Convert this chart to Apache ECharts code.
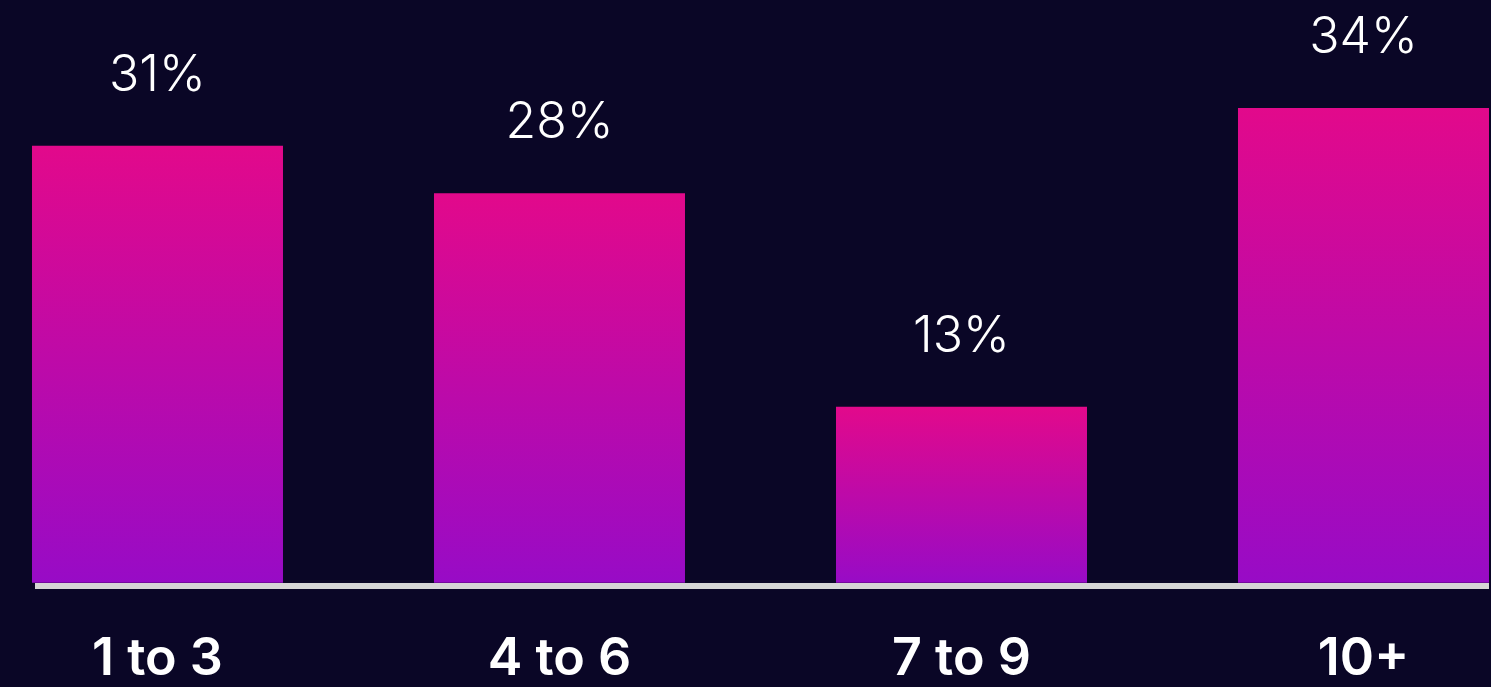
<!DOCTYPE html>
<html>
<head>
<meta charset="utf-8">
<script src="https://cdn.jsdelivr.net/npm/echarts@6/dist/echarts.min.js"></script>
<style>
html,body{margin:0;padding:0;background:#0a0626;}
#c{width:1491px;height:687px;}
</style>
</head>
<body>
<div id="c"></div>
<script>
const categories = ['1 to 3', '4 to 6', '7 to 9', '10+'];
const values = [31.3, 27.9, 12.6, 34];
const positions = [0, 1, 2, 3];

const chart = echarts.init(document.getElementById('c'));
chart.setOption({
  backgroundColor: '#0a0626',
  animation: false,
  grid: { left: 35, right: 2, top: 24.3, bottom: 104.3 },
  xAxis: {
    type: 'value',
    min: -0.3047,
    max: 3.3122,
    splitLine: { show: false },
    axisLine: { show: false },
    axisTick: { show: false },
    axisLabel: {
      customValues: positions,
      color: '#ffffff',
      fontFamily: 'Inter',
      fontWeight: 600,
      fontSize: 52,
      margin: 51,
      formatter: v => categories[Math.round(v)]
    }
  },
  yAxis: {
    type: 'value', min: 0, max: 40, show: false,
    splitLine: { show: false }
  },
  series: [{
    type: 'bar',
    data: values.map((v, i) => [positions[i], v]),
    barWidth: 251,
    itemStyle: {
      color: new echarts.graphic.LinearGradient(0, 0, 0, 1, [
        { offset: 0, color: '#e2098b' },
        { offset: 1, color: '#980bc6' }
      ])
    },
    label: {
      show: true,
      position: 'top',
      distance: 45,
      color: '#ffffff',
      fontFamily: 'Inter',
      fontWeight: 300,
      fontSize: 50,
      formatter: p => Math.round(p.value[1]) + '%'
    }
  }],
  graphic: [{
    type: 'rect',
    shape: { x: 35, y: 583, width: 1454, height: 6 },
    style: { fill: '#d6d6d6' },
    z: 1
  }]
});
</script>
</body>
</html>
